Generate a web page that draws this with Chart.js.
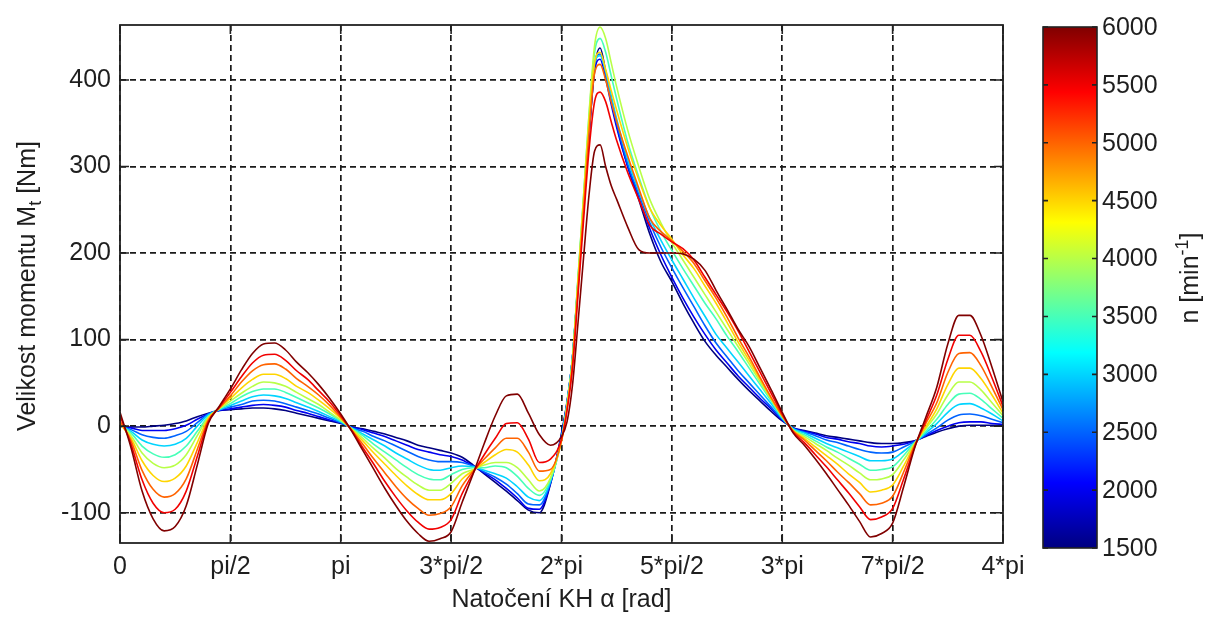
<!DOCTYPE html>
<html>
<head>
<meta charset="utf-8">
<title>Velikost momentu</title>
<script src="https://cdn.jsdelivr.net/npm/chart.js@4.4.1/dist/chart.umd.min.js"></script>
<style>
  html, body { margin: 0; padding: 0; background: #fff; }
  #wrap { width: 1207px; height: 617px; }
</style>
</head>
<body>
<div id="wrap"><canvas id="momentChart" width="1207" height="617"></canvas></div>
<script>
/*
 * data (natočení v násobcích pi, moment v Nm)
 */
const angle = [
	0, 0.05, 0.1, 0.15, 0.2, 0.25, 0.3, 0.35, 0.4, 0.45, 0.5, 0.55, 0.6, 0.65, 0.7, 0.75, 0.8, 0.85, 0.9, 0.95, 1.0,
	1.05, 1.1, 1.15, 1.2, 1.25, 1.3, 1.35, 1.4, 1.45, 1.5, 1.55, 1.6,
	1.65, 1.7, 1.75, 1.8, 1.85, 1.9, 1.95, 2.0,
	2.025, 2.05, 2.075, 2.1, 2.125, 2.15, 2.175, 2.2, 2.225, 2.25,
	2.3, 2.35, 2.4, 2.45, 2.5, 2.55, 2.6, 2.65, 2.7, 2.75, 2.8, 2.85, 2.9, 2.95, 3.0, 3.05,
	3.1, 3.15, 3.2, 3.25, 3.3, 3.35, 3.4, 3.45, 3.5, 3.55, 3.6, 3.65, 3.7, 3.75, 3.8, 3.85, 3.9, 3.95, 4.0
];

const n1500 = [
	0, -1, -1, 0, 1, 3, 6, 11, 15, 18, 19, 20, 21, 21, 20, 18, 15, 12, 9, 6, 3,
	-1, -3, -6, -9, -13, -17, -22, -25, -28, -31, -36, -45,
	-55, -65, -75, -86, -97, -100, -67, -8,
	28, 80, 165, 250, 335, 415, 437, 410, 378, 348,
	300, 262, 222, 190, 167, 142, 119, 98, 82, 68, 54, 41, 29, 17, 6, -2,
	-5, -8, -11, -13, -15, -17, -19, -20, -20, -19, -17, -12, -7, -3, 0, 1, 1, 1, 1
];
const n2000 = [
	0, -2, -5, -5, -5, -3, 1, 8, 14, 18, 20, 22, 24, 25, 24, 22, 18, 15, 11, 7, 4,
	-1, -4, -8, -12, -17, -22, -27, -30, -33, -35, -39, -46,
	-54, -62, -72, -83, -95, -96, -66, -10,
	27, 80, 166, 252, 338, 410, 424, 402, 372, 345,
	300, 264, 228, 198, 172, 148, 126, 106, 88, 73, 58, 45, 32, 20, 7, -2,
	-6, -9, -13, -15, -18, -20, -23, -24, -23, -21, -17, -11, -5, 0, 4, 5, 5, 3, 2
];
const n2500 = [
	0, -4, -10, -13, -14, -11, -6, 4, 14, 19, 22, 25, 29, 30, 29, 26, 22, 18, 14, 9, 4,
	-2, -6, -12, -17, -23, -29, -35, -39, -41, -41, -42, -46,
	-53, -59, -67, -78, -90, -91, -65, -12,
	26, 80, 168, 256, 345, 418, 430, 408, 378, 350,
	303, 268, 235, 207, 183, 160, 138, 116, 96, 80, 64, 50, 36, 22, 8, -3,
	-7, -11, -16, -19, -23, -27, -30, -31, -30, -24, -18, -10, -2, 7, 13, 14, 12, 8, 4
];
const n3000 = [
	1, -6, -16, -21, -23, -21, -14, 0, 13, 19, 24, 29, 34, 36, 35, 32, 27, 22, 17, 11, 5,
	-2, -9, -16, -23, -31, -38, -45, -50, -51, -48, -46, -47,
	-51, -55, -60, -70, -82, -86, -64, -14,
	26, 80, 170, 262, 352, 420, 428, 410, 382, 355,
	308, 272, 240, 215, 192, 170, 148, 127, 106, 90, 74, 58, 42, 26, 9, -3,
	-8, -14, -20, -25, -30, -35, -40, -40, -38, -29, -19, -8, 3, 16, 25, 26, 21, 14, 6
];
const n3500 = [
	1, -8, -23, -32, -36, -33, -23, -6, 11, 20, 26, 34, 40, 43, 43, 39, 33, 27, 21, 14, 6,
	-3, -11, -21, -30, -39, -48, -56, -61, -62, -56, -50, -48,
	-48, -46, -48, -58, -72, -80, -62, -15,
	25, 80, 172, 266, 360, 432, 448, 432, 405, 378,
	328, 288, 252, 225, 203, 182, 162, 142, 124, 104, 86, 67, 48, 29, 10, -4,
	-10, -17, -24, -30, -37, -44, -51, -50, -47, -34, -19, -6, 8, 25, 37, 38, 31, 20, 9
];
const n4000 = [
	2, -11, -31, -43, -48, -45, -33, -11, 10, 20, 29, 38, 46, 51, 50, 46, 39, 32, 25, 16, 7,
	-3, -14, -26, -37, -49, -59, -68, -74, -74, -66, -55, -50,
	-45, -42, -42, -48, -62, -75, -60, -16,
	24, 78, 172, 266, 362, 440, 461, 448, 420, 392,
	342, 300, 262, 235, 212, 192, 172, 152, 132, 112, 92, 72, 51, 31, 11, -5,
	-12, -20, -28, -37, -45, -54, -62, -61, -56, -39, -20, -3, 14, 36, 51, 51, 42, 27, 12
];
const n4500 = [
	3, -14, -40, -57, -64, -60, -46, -19, 9, 21, 32, 44, 54, 60, 60, 55, 46, 39, 30, 20, 9,
	-4, -17, -31, -44, -57, -69, -79, -85, -85, -78, -61, -51,
	-42, -33, -27, -30, -45, -63, -55, -17,
	22, 76, 168, 260, 352, 420, 432, 412, 388, 365,
	322, 285, 252, 232, 216, 198, 182, 162, 142, 120, 97, 76, 54, 32, 12, -5,
	-14, -24, -34, -44, -55, -65, -76, -74, -68, -46, -21, -1, 20, 48, 67, 67, 55, 36, 15
];
const n5000 = [
	6, -17, -51, -73, -82, -78, -61, -27, 7, 21, 35, 51, 64, 71, 72, 66, 55, 46, 36, 24, 10,
	-5, -21, -38, -54, -70, -84, -95, -103, -101, -93, -69, -52,
	-38, -25, -14, -14, -30, -52, -50, -17,
	20, 72, 160, 250, 340, 408, 418, 400, 375, 352,
	312, 275, 240, 225, 214, 202, 188, 168, 148, 126, 102, 80, 56, 33, 12, -6,
	-16, -28, -40, -53, -65, -78, -91, -89, -81, -53, -22, 3, 27, 62, 84, 85, 70, 45, 19
];
const n5500 = [
	12, -21, -62, -89, -100, -96, -75, -35, 5, 22, 39, 57, 73, 82, 83, 76, 64, 54, 41, 28, 12,
	-5, -25, -44, -64, -82, -98, -111, -119, -117, -108, -78, -54,
	-33, -14, 3, 4, -15, -42, -38, -15,
	18, 68, 152, 238, 320, 375, 386, 375, 352, 330,
	293, 262, 232, 222, 213, 205, 192, 172, 152, 132, 110, 86, 62, 38, 14, -7,
	-19, -33, -47, -62, -77, -93, -108, -105, -95, -61, -24, 6, 36, 77, 105, 105, 86, 56, 23
];
const n6000 = [
	16, -25, -75, -107, -121, -116, -92, -45, 3, 23, 43, 65, 84, 95, 96, 88, 74, 62, 48, 32, 14,
	-6, -28, -50, -72, -92, -110, -124, -133, -130, -122, -88, -55,
	-20, 12, 35, 37, 15, -10, -22, -12,
	5, 48, 120, 195, 268, 318, 325, 300, 278, 262,
	230, 204, 200, 200, 200, 199, 193, 180, 157, 135, 112, 92, 67, 42, 16, -8,
	-22, -38, -55, -73, -91, -110, -128, -124, -112, -70, -25, 10, 45, 95, 128, 128, 105, 68, 28
];

const speeds = [1500, 2000, 2500, 3000, 3500, 4000, 4500, 5000, 5500, 6000];
const series = [n1500, n2000, n2500, n3000, n3500, n4000, n4500, n5000, n5500, n6000];

const xTickValues = [0, 0.5, 1, 1.5, 2, 2.5, 3, 3.5, 4];
const xTickLabels = ['0', 'pi/2', 'pi', '3*pi/2', '2*pi', '5*pi/2', '3*pi', '7*pi/2', '4*pi'];
const yTickValues = [-100, 0, 100, 200, 300, 400];
const cbTicks = [1500, 2000, 2500, 3000, 3500, 4000, 4500, 5000, 5500, 6000];


/*
 * styl
 */
const FONT = '"Liberation Sans", Arial, Helvetica, sans-serif';
const TEXT = '#1e1e1e';
const FSIZE = 25;

// jet colormap (matlab)
const jet = t => {
	const c = v => Math.round(255 * Math.min(1, Math.max(0, v)));
	return 'rgb(' + c(1.5 - Math.abs(4 * t - 3)) + ',' + c(1.5 - Math.abs(4 * t - 2)) + ',' + c(1.5 - Math.abs(4 * t - 1)) + ')';
};
const nMin = cbTicks[0];
const nMax = cbTicks[cbTicks.length - 1];

// colorbar position
const cbLeft = 1043, cbRight = 1097, cbTop = 27, cbBottom = 548;


/*
 * ramecek, tiky, popisky osy y a colorbar
 */
const matlabFrame = {
	id: 'matlabFrame',
	afterDatasetsDraw(chart) {
		const { ctx, chartArea: a, scales } = chart;
		ctx.save();
		ctx.setLineDash([]);
		ctx.strokeStyle = '#222';
		ctx.lineWidth = 1.8;
		ctx.strokeRect(a.left, a.top, a.right - a.left, a.bottom - a.top);

		// tiky dovnitr
		ctx.lineWidth = 1.6;
		ctx.beginPath();
		xTickValues.forEach(v => {
			const x = scales.x.getPixelForValue(v);
			ctx.moveTo(x, a.bottom); ctx.lineTo(x, a.bottom - 9);
			ctx.moveTo(x, a.top); ctx.lineTo(x, a.top + 9);
		});
		yTickValues.forEach(v => {
			const y = scales.y.getPixelForValue(v);
			ctx.moveTo(a.left, y); ctx.lineTo(a.left + 9, y);
			ctx.moveTo(a.right, y); ctx.lineTo(a.right - 9, y);
		});
		ctx.stroke();
		ctx.restore();
	},
	afterDraw(chart) {
		const { ctx } = chart;
		ctx.save();
		ctx.fillStyle = TEXT;

		// popisek osy y s indexem
		ctx.translate(35, 286);
		ctx.rotate(-Math.PI / 2);
		ctx.textBaseline = 'alphabetic';
		ctx.textAlign = 'left';
		const big = FSIZE + 'px ' + FONT;
		const small = Math.round(FSIZE * 0.7) + 'px ' + FONT;
		ctx.font = big;
		const partA = 'Velikost momentu M', partB = ' [Nm]';
		const wA = ctx.measureText(partA).width, wB = ctx.measureText(partB).width;
		ctx.font = small;
		const wS = ctx.measureText('t').width;
		let x0 = -(wA + wS + wB) / 2;
		ctx.font = big;
		ctx.fillText(partA, x0, 0);
		ctx.font = small;
		ctx.fillText('t', x0 + wA, 6);
		ctx.font = big;
		ctx.fillText(partB, x0 + wA + wS, 0);
		ctx.setTransform(1, 0, 0, 1, 0, 0);

		// colorbar
		const grad = ctx.createLinearGradient(0, cbBottom, 0, cbTop);
		[0, 0.125, 0.375, 0.625, 0.875, 1].forEach(t => grad.addColorStop(t, jet(t)));
		ctx.fillStyle = grad;
		ctx.fillRect(cbLeft, cbTop, cbRight - cbLeft, cbBottom - cbTop);
		ctx.strokeStyle = '#222';
		ctx.lineWidth = 1.6;
		ctx.strokeRect(cbLeft, cbTop, cbRight - cbLeft, cbBottom - cbTop);

		ctx.fillStyle = TEXT;
		ctx.font = big;
		ctx.textAlign = 'left';
		ctx.textBaseline = 'middle';
		ctx.beginPath();
		cbTicks.forEach(v => {
			const y = cbBottom - (v - nMin) / (nMax - nMin) * (cbBottom - cbTop);
			ctx.moveTo(cbLeft, y); ctx.lineTo(cbLeft + 5, y);
			ctx.moveTo(cbRight, y); ctx.lineTo(cbRight - 5, y);
			ctx.fillText(String(v), cbRight + 5, y + 1);
		});
		ctx.stroke();

		// popisek colorbaru s exponentem
		ctx.translate(1198, 278);
		ctx.rotate(-Math.PI / 2);
		ctx.textBaseline = 'alphabetic';
		const cA = 'n [min', cS = '-1', cB = ']';
		ctx.font = big;
		const wcA = ctx.measureText(cA).width, wcB = ctx.measureText(cB).width;
		ctx.font = small;
		const wcS = ctx.measureText(cS).width;
		x0 = -(wcA + wcS + wcB) / 2;
		ctx.font = big;
		ctx.fillText(cA, x0, 0);
		ctx.font = small;
		ctx.fillText(cS, x0 + wcA, -10);
		ctx.font = big;
		ctx.fillText(cB, x0 + wcA + wcS, 0);
		ctx.restore();
	}
};


/*
 * graf
 */
const datasets = series.map((values, i) => ({
	label: speeds[i] + ' min-1',
	data: values.map((v, j) => ({ x: angle[j], y: v })),
	borderColor: jet((speeds[i] - nMin) / (nMax - nMin)),
	borderWidth: 1.6,
	pointRadius: 0,
	fill: false,
	cubicInterpolationMode: 'monotone',
	order: series.length - 1 - i
}));

const tickFont = { family: FONT, size: FSIZE, lineHeight: 1.2 };

new Chart(document.getElementById('momentChart'), {
	type: 'line',
	data: { datasets: datasets },
	options: {
		responsive: false,
		animation: false,
		events: [],
		layout: { padding: { left: 0, right: 204, top: 25, bottom: 0 } },
		plugins: {
			legend: { display: false },
			tooltip: { enabled: false }
		},
		scales: {
			x: {
				type: 'linear',
				min: 0,
				max: 4,
				afterBuildTicks: scale => { scale.ticks = xTickValues.map(v => ({ value: v })); },
				afterFit: scale => { scale.height = 74; },
				ticks: {
					color: TEXT,
					font: tickFont,
					padding: 9,
					maxRotation: 0,
					autoSkip: false,
					callback: value => xTickLabels[xTickValues.indexOf(value)]
				},
				grid: { color: '#1a1a1a', lineWidth: 1.7, drawTicks: false },
				border: { display: false, dash: [6, 4] },
				title: {
					display: true,
					text: 'Natočení KH α [rad]',
					color: TEXT,
					font: tickFont,
					padding: { top: 0, bottom: 2 }
				}
			},
			y: {
				type: 'linear',
				min: -135,
				max: 463.5,
				afterBuildTicks: scale => { scale.ticks = yTickValues.map(v => ({ value: v })); },
				afterFit: scale => { scale.width = 120; },
				ticks: {
					color: TEXT,
					font: tickFont,
					padding: 9
				},
				grid: { color: '#1a1a1a', lineWidth: 1.7, drawTicks: false },
				border: { display: false, dash: [6, 4] }
			}
		}
	},
	plugins: [matlabFrame]
});
</script>
</body>
</html>
